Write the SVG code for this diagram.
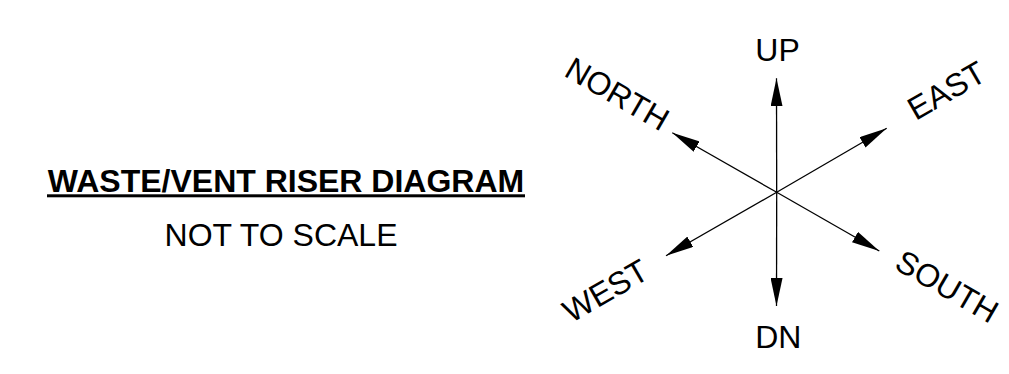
<svg xmlns="http://www.w3.org/2000/svg" width="1009" height="374" viewBox="0 0 1009 374">
<style>
  .t { font-family: "Liberation Sans", Arial, sans-serif; font-size: 32px; fill: #000; }
  .b { font-weight: bold; }
  .ax { stroke: #000; stroke-width: 1.3; fill: none; marker-end: url(#ah); }
</style>
<defs>
  <marker id="ah" viewBox="0 0 28 12" refX="28" refY="6" markerWidth="28" markerHeight="12" markerUnits="userSpaceOnUse" orient="auto">
    <path d="M0,0 L28,6 L0,12 Z" fill="#000"/>
  </marker>
</defs>
<rect width="1009" height="374" fill="#fff"/>
<g id="title">
  <text class="t b" x="286" y="191.5" text-anchor="middle">WASTE/VENT RISER DIAGRAM</text>
  <rect x="47" y="194.3" width="478" height="3" fill="#000"/>
</g>
<g id="subtitle">
  <text class="t" x="281" y="246" text-anchor="middle">NOT TO SCALE</text>
</g>
<g id="connectors">
  <line class="ax" x1="776.7" y1="192.3" x2="776.5" y2="78.3"/>
  <line class="ax" x1="776.7" y1="192.3" x2="776.5" y2="306"/>
  <line class="ax" x1="776.7" y1="192.3" x2="886.7" y2="128.3"/>
  <line class="ax" x1="776.7" y1="192.3" x2="672.3" y2="132.7"/>
  <line class="ax" x1="776.7" y1="192.3" x2="666" y2="255.7"/>
  <line class="ax" x1="776.7" y1="192.3" x2="879.3" y2="251"/>
</g>
<g id="up"><text class="t" x="777.5" y="60.7" text-anchor="middle">UP</text></g>
<g id="dn"><text class="t" x="778.3" y="348.3" text-anchor="middle">DN</text></g>
<g id="east"><text class="t" x="952" y="100" text-anchor="middle" transform="rotate(-30 952 100)">EAST</text></g>
<g id="south"><text class="t" x="941.5" y="296" text-anchor="middle" transform="rotate(30 941.5 296)">SOUTH</text></g>
<g id="north"><text class="t" x="611.8" y="103.5" text-anchor="middle" transform="rotate(30 611.8 103.5)">NORTH</text></g>
<g id="west"><text class="t" x="611" y="300.3" text-anchor="middle" transform="rotate(-30 611 300.3)">WEST</text></g>
</svg>
